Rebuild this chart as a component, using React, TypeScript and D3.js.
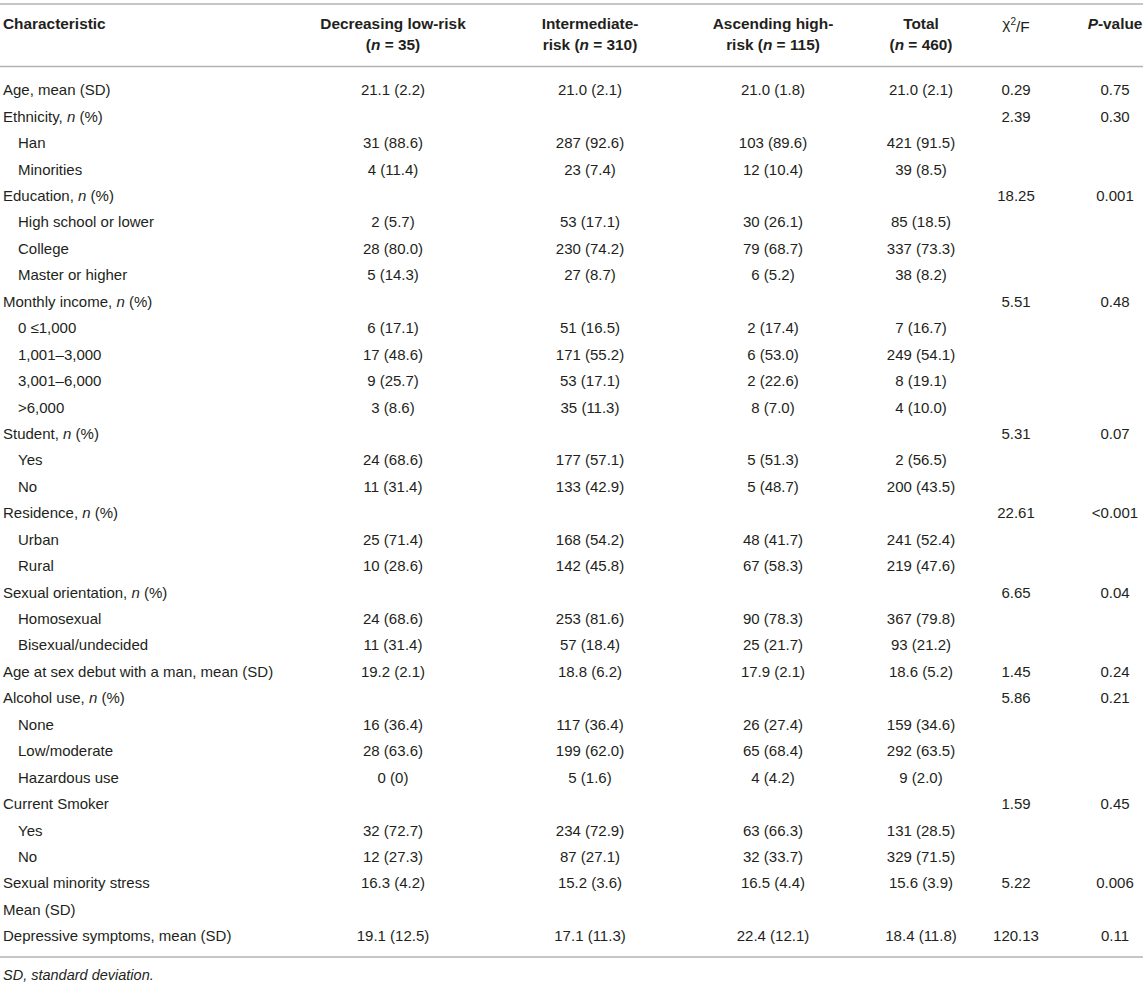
import React from "react";
import * as d3 from "d3";

// ---- Data ----
const characteristics: string[] = [
  "Age, mean (SD)",
  "Ethnicity, n (%)",
  "Han",
  "Minorities",
  "Education, n (%)",
  "High school or lower",
  "College",
  "Master or higher",
  "Monthly income, n (%)",
  "0 ≤1,000",
  "1,001–3,000",
  "3,001–6,000",
  ">6,000",
  "Student, n (%)",
  "Yes",
  "No",
  "Residence, n (%)",
  "Urban",
  "Rural",
  "Sexual orientation, n (%)",
  "Homosexual",
  "Bisexual/undecided",
  "Age at sex debut with a man, mean (SD)",
  "Alcohol use, n (%)",
  "None",
  "Low/moderate",
  "Hazardous use",
  "Current Smoker",
  "Yes",
  "No",
  "Sexual minority stress",
  "Mean (SD)",
  "Depressive symptoms, mean (SD)",
];

const indented: boolean[] = [
  false, false, true, true, false, true, true, true, false, true, true, true, true,
  false, true, true, false, true, true, false, true, true, false, false, true, true,
  true, false, true, true, false, false, false,
];

const decreasingLowRisk: string[] = [
  "21.1 (2.2)", "", "31 (88.6)", "4 (11.4)", "", "2 (5.7)", "28 (80.0)", "5 (14.3)",
  "", "6 (17.1)", "17 (48.6)", "9 (25.7)", "3 (8.6)", "", "24 (68.6)", "11 (31.4)",
  "", "25 (71.4)", "10 (28.6)", "", "24 (68.6)", "11 (31.4)", "19.2 (2.1)", "",
  "16 (36.4)", "28 (63.6)", "0 (0)", "", "32 (72.7)", "12 (27.3)", "16.3 (4.2)", "",
  "19.1 (12.5)",
];

const intermediateRisk: string[] = [
  "21.0 (2.1)", "", "287 (92.6)", "23 (7.4)", "", "53 (17.1)", "230 (74.2)", "27 (8.7)",
  "", "51 (16.5)", "171 (55.2)", "53 (17.1)", "35 (11.3)", "", "177 (57.1)", "133 (42.9)",
  "", "168 (54.2)", "142 (45.8)", "", "253 (81.6)", "57 (18.4)", "18.8 (6.2)", "",
  "117 (36.4)", "199 (62.0)", "5 (1.6)", "", "234 (72.9)", "87 (27.1)", "15.2 (3.6)", "",
  "17.1 (11.3)",
];

const ascendingHighRisk: string[] = [
  "21.0 (1.8)", "", "103 (89.6)", "12 (10.4)", "", "30 (26.1)", "79 (68.7)", "6 (5.2)",
  "", "2 (17.4)", "6 (53.0)", "2 (22.6)", "8 (7.0)", "", "5 (51.3)", "5 (48.7)",
  "", "48 (41.7)", "67 (58.3)", "", "90 (78.3)", "25 (21.7)", "17.9 (2.1)", "",
  "26 (27.4)", "65 (68.4)", "4 (4.2)", "", "63 (66.3)", "32 (33.7)", "16.5 (4.4)", "",
  "22.4 (12.1)",
];

const totalValues: string[] = [
  "21.0 (2.1)", "", "421 (91.5)", "39 (8.5)", "", "85 (18.5)", "337 (73.3)", "38 (8.2)",
  "", "7 (16.7)", "249 (54.1)", "8 (19.1)", "4 (10.0)", "", "2 (56.5)", "200 (43.5)",
  "", "241 (52.4)", "219 (47.6)", "", "367 (79.8)", "93 (21.2)", "18.6 (5.2)", "",
  "159 (34.6)", "292 (63.5)", "9 (2.0)", "", "131 (28.5)", "329 (71.5)", "15.6 (3.9)", "",
  "18.4 (11.8)",
];

const chiF: string[] = [
  "0.29", "2.39", "", "", "18.25", "", "", "", "5.51", "", "", "", "", "5.31", "", "",
  "22.61", "", "", "6.65", "", "", "1.45", "5.86", "", "", "", "1.59", "", "", "5.22", "",
  "120.13",
];

const pValues: string[] = [
  "0.75", "0.30", "", "", "0.001", "", "", "", "0.48", "", "", "", "", "0.07", "", "",
  "<0.001", "", "", "0.04", "", "", "0.24", "0.21", "", "", "", "0.45", "", "", "0.006", "",
  "0.11",
];

const columnKeys: string[] = ["dec", "int", "asc", "tot", "chi", "p"];
const headerLine1: string[] = ["Decreasing low-risk", "Intermediate-", "Ascending high-", "Total", "", ""];
const headerNs: string[] = ["35", "310", "115", "460"];
const headerPrefix2: string[] = ["", "risk ", "risk ", ""];
const footnote = "SD, standard deviation.";

// ---- Layout ----
const W = 1145;
const H = 983;
const FONT = "'Liberation Sans', Arial, Helvetica, sans-serif";
const TEXT = "#231f20";
const RULE = "#b3b3b3";

const xCol = d3.scaleOrdinal<string, number>().domain(columnKeys).range([393, 590, 773, 921, 1016, 1115]);
const yRow = d3
  .scalePoint<number>()
  .domain(d3.range(characteristics.length))
  .range([90, 936]);

function Label({ text }: { text: string }) {
  const m = text.match(/^(.*, )n( \(%\))$/);
  if (m) {
    return (
      <>
        <tspan>{m[1]}</tspan>
        <tspan fontStyle="italic">n</tspan>
        <tspan>{m[2]}</tspan>
      </>
    );
  }
  return <>{text}</>;
}

export default function App() {
  const columns = [decreasingLowRisk, intermediateRisk, ascendingHighRisk, totalValues, chiF, pValues];
  return (
    <svg
      width={W}
      height={H}
      style={{ position: "absolute", left: 0, top: 0, background: "#fff" }}
      fontFamily={FONT}
    >
      <rect width={W} height={H} fill="#fff" />
      {/* rules */}
      <line x1={0} x2={W - 2} y1={4} y2={4} stroke={RULE} strokeWidth={1.6} />
      <line x1={0} x2={W - 2} y1={66.5} y2={66.5} stroke={RULE} strokeWidth={1.6} />
      <line x1={0} x2={W - 2} y1={957} y2={957} stroke={RULE} strokeWidth={1.6} />

      {/* header */}
      <g fontWeight="bold" fontSize={15.4} fill={TEXT}>
        <text x={3} y={24} dy="0.35em">Characteristic</text>
        {headerLine1.slice(0, 4).map((h, i) => (
          <text key={"h1" + i} x={xCol(columnKeys[i])} y={24} dy="0.35em" textAnchor="middle">
            {h}
          </text>
        ))}
        {headerNs.map((n, i) => (
          <text key={"h2" + i} x={xCol(columnKeys[i])} y={45} dy="0.35em" textAnchor="middle">
            {headerPrefix2[i]}(<tspan fontStyle="italic">n</tspan> = {n})
          </text>
        ))}
        <text x={xCol("chi")} y={24} dy="0.35em" textAnchor="middle" fontWeight="normal">
          χ<tspan dy="-0.4em" fontSize={10}>2</tspan>
          <tspan dy="0.4em">/F</tspan>
        </text>
        <text x={xCol("p")} y={24} dy="0.35em" textAnchor="middle">
          <tspan fontStyle="italic">P</tspan>-value
        </text>
      </g>

      {/* body */}
      <g fontSize={15} fill={TEXT}>
        {characteristics.map((c, i) => (
          <text key={"c" + i} x={indented[i] ? 18 : 3} y={yRow(i)} dy="0.35em">
            <Label text={c} />
          </text>
        ))}
        {columns.map((col, j) =>
          col.map((v, i) =>
            v ? (
              <text key={`v${j}-${i}`} x={xCol(columnKeys[j])} y={yRow(i)} dy="0.35em" textAnchor="middle">
                {v}
              </text>
            ) : null
          )
        )}
      </g>

      <text x={3} y={975} dy="0.35em" fontSize={14.5} fontStyle="italic" fill={TEXT}>
        {footnote}
      </text>
    </svg>
  );
}
